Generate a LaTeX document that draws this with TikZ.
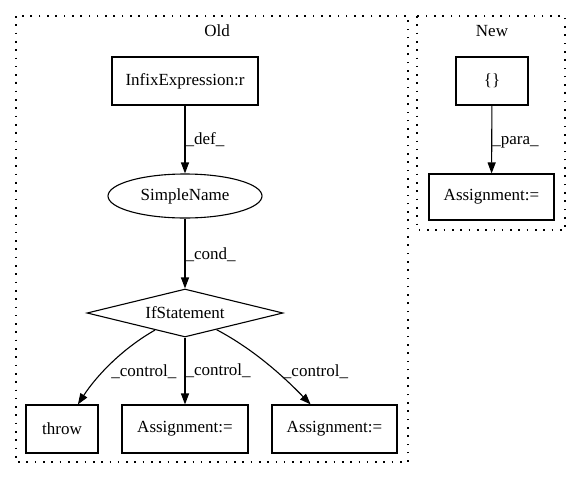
\documentclass[tikz,border=0pt]{standalone}
\usepackage{fontspec}
\setmainfont{Liberation Serif}
\usetikzlibrary{shapes.geometric,arrows.meta}
\begin{document}
\begin{tikzpicture}[x=1pt,y=-1pt,
  every node/.style={font=\fontsize{17}{19}\selectfont, inner sep=0pt},
  box/.style={draw, line width=1.1pt, minimum height=48pt},
  cluster/.style={draw, line width=1.1pt, dash pattern=on 1.6pt off 6.7pt},
  edge/.style={draw, line width=1.1pt, -{Triangle[length=11pt,width=8pt]}},
  lab/.style={anchor=west}]
\useasboundingbox (0,0) rectangle (581,480);
% clusters
\draw[cluster] (16,16) rectangle (408,462);
\draw[cluster] (417,16) rectangle (565,230);
\node (oldlab) at (217,31) {Old};
\node (newlab) at (492,31) {New};
% Old nodes
\node[box, minimum width=146pt] (infix) at (185,81) {InfixExpression:r};
\node[draw, line width=1.1pt, ellipse, minimum width=154pt, minimum height=44pt] (simple) at (185,196) {SimpleName};
\node[draw, line width=1.1pt, diamond, aspect=4, minimum width=196pt, minimum height=48pt] (ifs) at (185,313) {IfStatement};
\node[box, minimum width=72pt] (throw) at (62,429) {throw};
\node[box, minimum width=126pt] (asg1) at (185,429) {Assignment:=};
\node[box, minimum width=125pt] (asg2) at (334.5,429) {Assignment:=};
% New nodes
\node[box, minimum width=72pt] (braces) at (492,81) {\{\}};
\node[box, minimum width=125pt, minimum height=46pt] (asg3) at (491.5,197) {Assignment:=};
% edges
\draw[edge] (infix) -- node[lab] {\_def\_} (simple);
\draw[edge] (simple) -- node[lab, yshift=-1pt] {\_cond\_} (ifs);
\draw[edge] (ifs) .. controls (120,350) and (95,378) .. node[pos=0.5, anchor=west, xshift=1pt, yshift=-7pt] {\_control\_} (throw);
\draw[edge] (ifs) -- node[lab] {\_control\_} (asg1);
\draw[edge] (ifs) .. controls (255,350) and (285,378) .. node[pos=0.5, anchor=west, xshift=14pt, yshift=-7pt] {\_control\_} (asg2);
\draw[edge] (braces) -- node[lab, yshift=-3pt] {\_para\_} (asg3);
\end{tikzpicture}
\end{document}
